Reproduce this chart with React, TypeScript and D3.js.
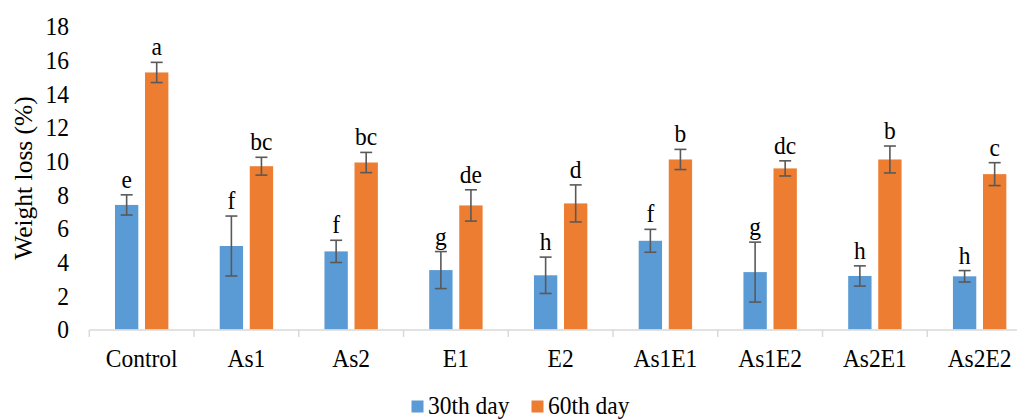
import React from "react";
import * as d3 from "d3";

const categories = ["Control", "As1", "As2", "E1", "E2", "As1E1", "As1E2", "As2E1", "As2E2"];
const seriesNames = ["30th day", "60th day"];
const day30 = [7.4, 4.96, 4.64, 3.53, 3.22, 5.27, 3.41, 3.18, 3.16];
const day30Err = [0.6, 1.78, 0.66, 1.1, 1.08, 0.68, 1.78, 0.6, 0.34];
const day30Letters = ["e", "f", "f", "g", "h", "f", "g", "h", "h"];
const day60 = [15.27, 9.7, 9.92, 7.37, 7.49, 10.1, 9.57, 10.1, 9.23];
const day60Err = [0.6, 0.53, 0.6, 0.93, 1.1, 0.6, 0.45, 0.8, 0.68];
const day60Letters = ["a", "bc", "bc", "de", "d", "b", "dc", "b", "c"];
const yTicks = [0, 2, 4, 6, 8, 10, 12, 14, 16, 18];

const colors = ["#5B9BD5", "#ED7D31"];
const W = 1017;
const H = 419;
const font = '"Liberation Serif", "DejaVu Serif", "Times New Roman", serif';
const FS = 23.5;
const VS = 1.1;

// Text drawn with a slightly taller glyph shape, anchored at its baseline
function Label(props: { x: number; y: number; anchor?: string; children: React.ReactNode }) {
  const { x, y, anchor = "middle", children } = props;
  return (
    <text
      transform={`translate(${x},${y}) scale(1,${VS})`}
      textAnchor={anchor}
      fontSize={FS}
      fill="#000"
      style={{ fontFamily: font }}
    >
      {children}
    </text>
  );
}

export default function App() {
  const x0 = d3.scaleBand<string>().domain(categories).range([89.3, 1032]).paddingInner(0).paddingOuter(0);
  const bw = x0.bandwidth();
  const x1 = d3
    .scaleBand<string>()
    .domain(seriesNames)
    .range([bw / 2 - 26.7, bw / 2 + 26.7])
    .paddingInner(0.223)
    .paddingOuter(0);
  const y = d3.scaleLinear().domain([0, 18]).range([329.5, 26.5]);

  const series = [
    { name: seriesNames[0], vals: day30, errs: day30Err, letters: day30Letters },
    { name: seriesNames[1], vals: day60, errs: day60Err, letters: day60Letters },
  ];

  const axisY = 330;

  return (
    <svg
      width={W}
      height={H}
      style={{ position: "absolute", left: 0, top: 0, display: "block", background: "#fff", fontFamily: font }}
    >
      {/* y tick labels */}
      {yTicks.map((t) => (
        <Label key={t} x={69} y={y(t) + 8.7} anchor="end">
          {t}
        </Label>
      ))}
      {/* y axis title */}
      <text
        transform="translate(32,178) rotate(-90)"
        textAnchor="middle"
        fontSize={25.5}
        fill="#000"
        style={{ fontFamily: font }}
      >
        Weight loss (%)
      </text>

      {/* bars, error bars, letters */}
      {series.map((s, si) =>
        categories.map((c, i) => {
          const bx = (x0(c) as number) + (x1(s.name) as number);
          const w = x1.bandwidth();
          const cx = bx + w / 2;
          const v = s.vals[i];
          const e = s.errs[i];
          const top = y(v + e);
          const bot = y(v - e);
          return (
            <g key={`${si}-${c}`}>
              <rect x={bx} y={y(v)} width={w} height={y(0) - y(v)} fill={colors[si]} />
              <g stroke="#595959" strokeWidth={1.6}>
                <line x1={cx} x2={cx} y1={top} y2={bot} />
                <line x1={cx - 6} x2={cx + 6} y1={top} y2={top} />
                <line x1={cx - 6} x2={cx + 6} y1={bot} y2={bot} />
              </g>
              <Label x={cx} y={top - 7}>
                {s.letters[i]}
              </Label>
            </g>
          );
        })
      )}

      {/* x axis */}
      <line x1={89.3} x2={1032} y1={axisY} y2={axisY} stroke="#D9D9D9" strokeWidth={1.5} />
      {categories.map((c) => (
        <line
          key={`t-${c}`}
          x1={x0(c) as number}
          x2={x0(c) as number}
          y1={axisY}
          y2={axisY + 7}
          stroke="#D9D9D9"
          strokeWidth={1.5}
        />
      ))}
      {categories.map((c) => (
        <Label key={`l-${c}`} x={(x0(c) as number) + bw / 2} y={366.5}>
          {c}
        </Label>
      ))}

      {/* legend */}
      <rect x={411.5} y={400.5} width={12} height={12} fill={colors[0]} />
      <Label x={428} y={413.5} anchor="start">
        {seriesNames[0]}
      </Label>
      <rect x={531.5} y={400.5} width={12} height={12} fill={colors[1]} />
      <Label x={548} y={413.5} anchor="start">
        {seriesNames[1]}
      </Label>
    </svg>
  );
}
